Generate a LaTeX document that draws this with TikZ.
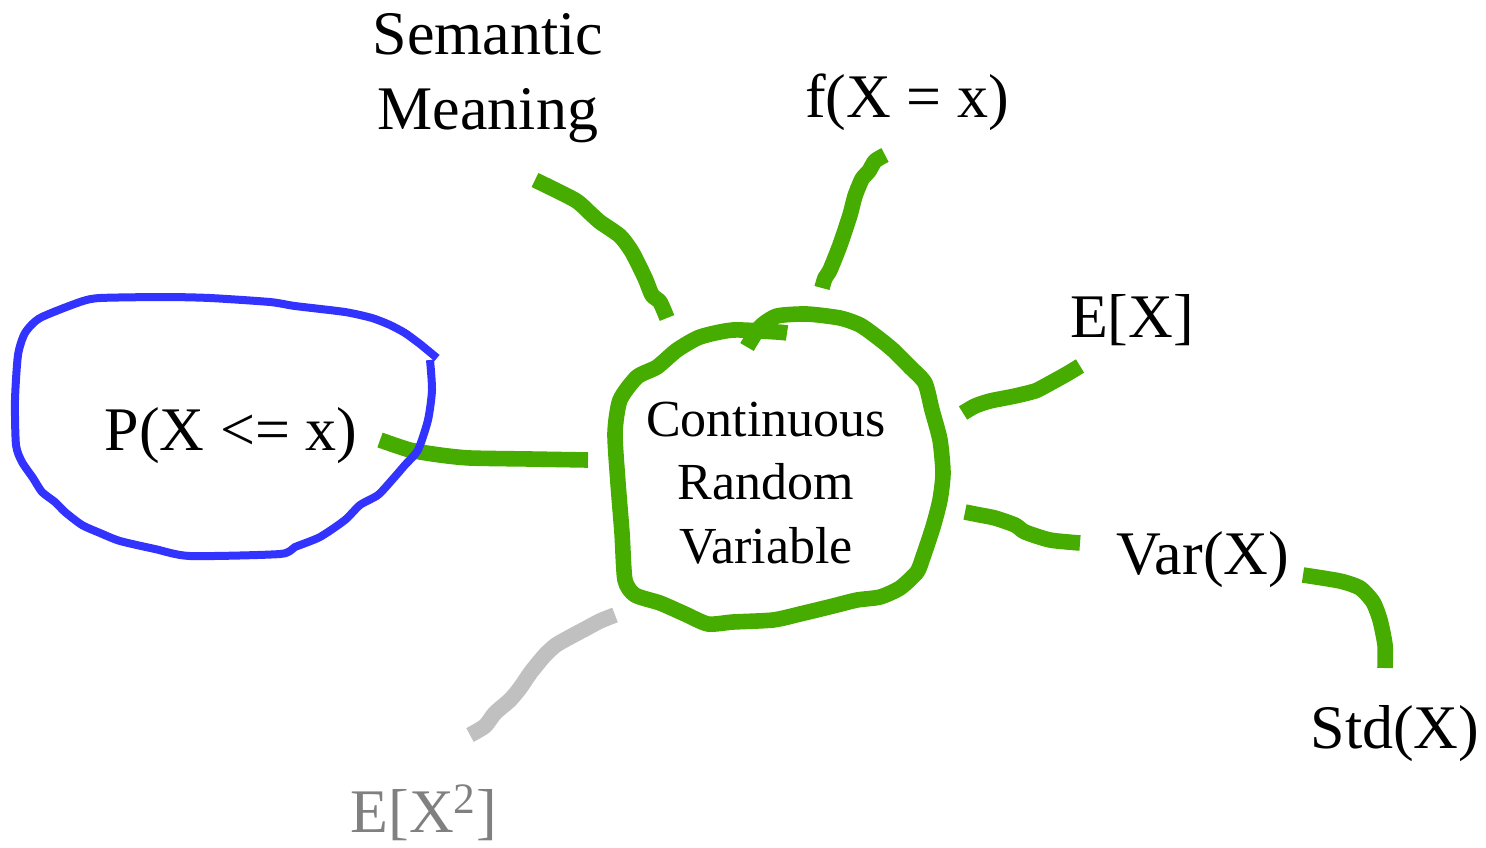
\documentclass[tikz,border=0pt]{standalone}
\usepackage{fontspec}
\setmainfont{Liberation Serif}
\definecolor{spokegreen}{RGB}{70,172,0}
\definecolor{loopblue}{RGB}{51,51,255}
\definecolor{fadeline}{RGB}{192,192,192}
\definecolor{fadetext}{RGB}{128,128,128}
\tikzset{
  spoke/.style={draw=spokegreen, line width=7.8pt, line join=round},
  term/.style={inner sep=0pt, align=center, font=\fontsize{31}{37.5}\selectfont},
  hub/.style={inner sep=0pt, align=center, font=\fontsize{26}{31.75}\selectfont},
}
\begin{document}
\begin{tikzpicture}[x=0.5pt,y=-0.5pt]
				\useasboundingbox (0,0) rectangle (1486,847);
				\node[hub] (crv) at (766,483) {Continuous\\Random\\Variable};
				\node[term] (sem) at (488,78) {Semantic\\Meaning};
				\node[term,anchor=base] (pdf) at (907,117) {f(X = x)};
				\node[term,anchor=base] (mean) at (1132,337) {E[X]};
				\node[term,anchor=base] (var) at (1203,574) {Var(X)};
				\node[term,anchor=base] (std) at (1395,748) {Std(X)};
				\node[term,anchor=base] (cdf) at (231,450) {P(X <= x)};
				\node[term,anchor=base,text=fadetext] (mom) at (424,832) {E[X\textsuperscript{2}]};
				\draw[spoke] plot[smooth,tension=0.4] coordinates {(747,347) (760,327) (777,316) (807,314) (840,318) (860,325) (877,337) (893,350) (910,367) (925,383) (932,410) (940,440) (943,473) (940,500) (933,527) (923,557) (917,572) (900,588) (880,597) (857,600) (833,606) (800,614) (773,620) (733,622) (708,624) (685,614) (660,603) (635,595) (625,580) (622,533) (618,483) (615,433) (620,400) (637,377) (657,367) (677,350) (700,337) (733,330) (777,332) (787,333)};
				\draw[spoke] plot[smooth,tension=0.4] coordinates {(535,180) (575,200) (590,213) (600,222) (620,236) (632,252) (645,278) (652,295) (660,302) (667,318)};
				\draw[spoke] plot[smooth,tension=0.4] coordinates {(885,155) (875,161) (869,171) (862,179) (855,196) (850,215) (840,245) (830,270) (825,278) (822,288)};
				\draw[spoke] plot[smooth,tension=0.4] coordinates {(963,413) (975,406) (990,401) (1015,396) (1035,391) (1045,386) (1065,375) (1080,366)};
				\draw[spoke] plot[smooth,tension=0.4] coordinates {(965,512) (980,515) (995,518) (1015,525) (1025,532) (1050,540) (1080,543)};
				\draw[spoke] plot[smooth,tension=0.4] coordinates {(1303,575) (1340,581) (1360,588) (1373,602) (1380,620) (1385,645) (1385,668)};
				\draw[spoke] plot[smooth,tension=0.4] coordinates {(380,440) (410,450) (440,455) (470,458) (530,459) (588,460)};
				\draw[spoke,draw=fadeline] plot[smooth,tension=0.4] coordinates {(615,615) (600,621) (585,629) (570,637) (556,645) (545,655) (531,672) (520,688) (510,700) (495,713) (485,726) (470,735)};
				\draw[draw=loopblue,line width=4pt,line join=round] plot[smooth,tension=0.4] coordinates {(437,358) (420,344) (405,333) (390,325) (372,318) (345,312) (295,306) (270,302) (210,298) (165,297) (100,298) (80,302) (40,318) (25,333) (18,355) (15,400) (16,445) (22,462) (33,478) (42,492) (55,502) (65,512) (82,525) (100,533) (120,541) (155,549) (190,556) (280,554) (295,547) (320,537) (345,520) (360,505) (378,495) (392,480) (405,465) (418,450) (428,420) (432,390) (430,360)};
			\end{tikzpicture}
\end{document}
